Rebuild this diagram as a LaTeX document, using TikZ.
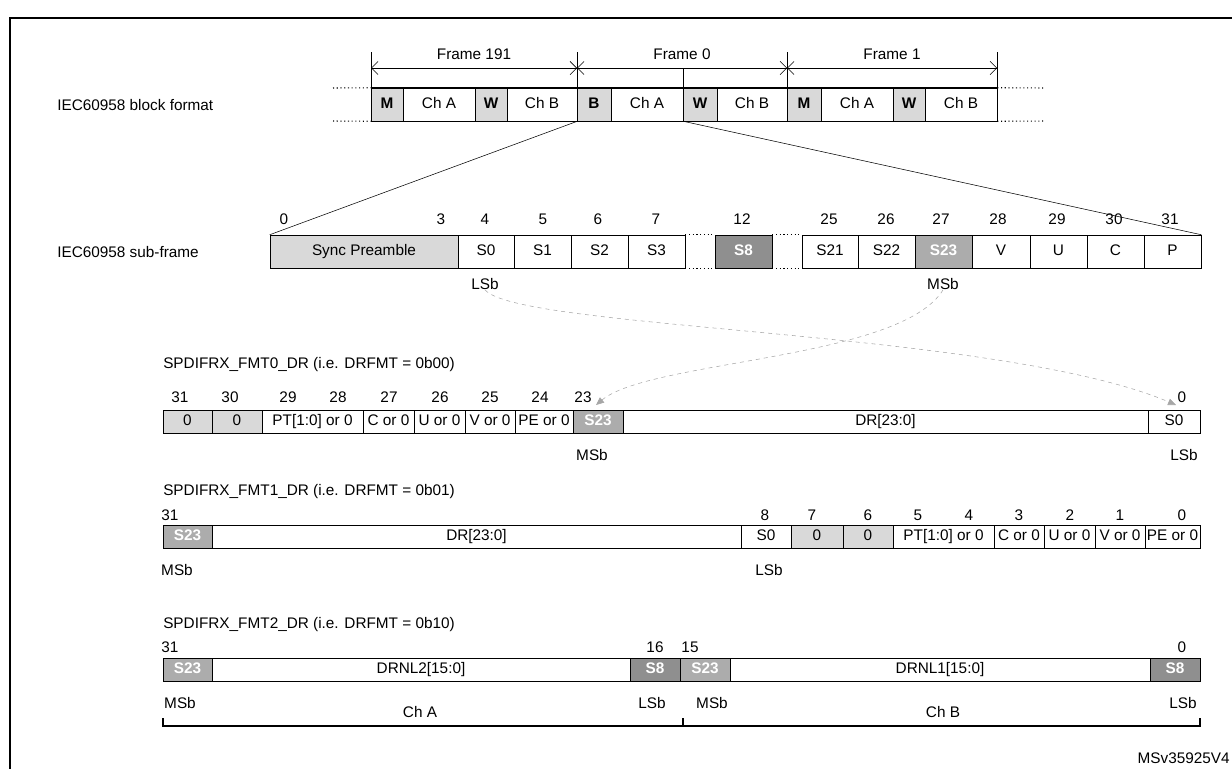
\documentclass[tikz,border=0pt]{standalone}
\usepackage{fontspec}
\setmainfont{Liberation Sans}
\usetikzlibrary{arrows.meta,positioning}
\tikzset{
  cell/.style={draw, inner sep=0pt, text height=1.6ex, text depth=0.35ex, font=\fontsize{11.5}{13}\selectfont},
  wt/.style={cell, fill=white},
  lt/.style={cell, fill=gray!30},
  md/.style={cell, fill=gray!65, text=white, font=\fontsize{11.5}{13}\selectfont\bfseries},
  dk/.style={cell, fill=gray!90!black!80, text=white, font=\fontsize{11.5}{13}\selectfont\bfseries},
  bk/.style={cell, fill=gray!30, font=\fontsize{11.5}{13}\selectfont\bfseries},
  lbl/.style={inner sep=0pt, font=\fontsize{11.5}{13}\selectfont},
  dim/.style={-{Straight Barb[length=5pt]}, thin},
  swap/.style={dashed, gray!70, thin, -{Triangle[length=6pt,width=5pt]}}
}
\begin{document}
\begin{tikzpicture}[x=0.75pt,y=-0.75pt]
\useasboundingbox (0,0) rectangle (1232,768);
\draw[thick] (10,770) -- (10,18) -- (1234,18);

% block format
\node[lbl, anchor=west] (blk) at (57,105) {IEC60958 block format};
\foreach \a/\b/\t/\s [count=\i] in {371/403/M/bk,403/475/Ch A/wt,475/507/W/bk,507/577/Ch B/wt,
  577/611/B/bk,611/683/Ch A/wt,683/717/W/bk,717/787/Ch B/wt,787/821/M/bk,821/893/Ch A/wt,893/925/W/bk,925/997/Ch B/wt}
  \node[\s, minimum width={(\b-\a)*0.75pt}, minimum height=24.75pt] (b\i) at ({(\a+\b)/2},104.5) {\t};
\draw[thick] (b1.north west) -- (b12.north east);
\draw[thick] (b1.south west) -- (b12.south east);
\draw[thick, dotted] (333,88) -- (b1.north west) (333,121) -- (b1.south west);
\draw[thick, dotted] (b12.north east) -- (1045,88) (b12.south east) -- (1045,121);
\foreach \x in {371,577,787,997} \draw (\x,52) -- (\x,88);
\draw (683,68) -- (683,88);
\foreach \a/\b/\t [count=\i] in {371/577/Frame 191,577/787/Frame 0,787/997/Frame 1} {
  \coordinate (fl\i) at (\a,68); \coordinate (fr\i) at (\b,68);
  \draw[dim] (fl\i) -- (fr\i);
  \draw[dim] (fr\i) -- (fl\i);
  \node[lbl] (fn\i) at ({(\a+\b)/2},54) {\t};
}

% sub-frame
\node[lbl, anchor=west] (sub) at (57,252) {IEC60958 sub-frame};
\foreach \a/\b/\t/\s [count=\i] in {270/458/Sync Preamble/lt,458/514/S0/wt,514/571/S1/wt,571/628/S2/wt,628/685/S3/wt,
  715/772/S8/dk,802/858/S21/wt,858/915/S22/wt,915/972/S23/md,972/1030/V/wt,1030/1087/U/wt,1087/1144/C/wt,1144/1201/P/wt}
  \node[\s, minimum width={(\b-\a)*0.75pt}, minimum height=24.75pt] (s\i) at ({(\a+\b)/2},251.5) {\t};
\draw[thick, dotted] (s5.north east) -- (s6.north west) (s5.south east) -- (s6.south west);
\draw[thick, dotted] (s6.north east) -- (s7.north west) (s6.south east) -- (s7.south west);
\foreach \x/\t in {284/0,441/3,485/4,543/5,598/6,656/7,742/12,829/25,886/26,941/27,998/28,1057/29,1114/30,1170/31}
  \node[lbl] at (\x,219) {\t};
\draw (b4.south east) -- (s1.north west);
\draw (b6.south east) -- (s13.north east);
\node[lbl] (slsb) at (485,284) {LSb};
\node[lbl] (smsb) at (943,284) {MSb};

% FMT0
\node[lbl, anchor=west] (f0) at (163,365) {SPDIFRX\_FMT0\_DR (i.e. DRFMT = 0b00)};
\foreach \a/\b/\t/\s [count=\i] in {163/212/0/lt,212/262/0/lt,262/363/PT[1:0] or 0/wt,363/414/C or 0/wt,414/465/U or 0/wt,
  465/515/V or 0/wt,515/573/PE or 0/wt,573/623/S23/md,623/1148/DR[23:0]/wt,1148/1200/S0/wt}
  \node[\s, minimum width={(\b-\a)*0.75pt}, minimum height=17.25pt] (p\i) at ({(\a+\b)/2},421.5) {\t};
\foreach \x/\t in {180/31,230/30,288/29,338/28,389/27,440/26,490/25,540/24,583/23,1182/0}
  \node[lbl] at (\x,397) {\t};
\node[lbl] at (592,455) {MSb};
\node[lbl] at (1184,455) {LSb};
\draw[swap] (slsb.south) .. controls (520,330) and (1000,330) .. (1176,405);
\draw[swap] (smsb.south) .. controls (900,360) and (650,360) .. (596,405);

% FMT1
\node[lbl, anchor=west] (f1) at (163,492) {SPDIFRX\_FMT1\_DR (i.e. DRFMT = 0b01)};
\foreach \a/\b/\t/\s [count=\i] in {163/212/S23/md,212/741/DR[23:0]/wt,741/791/S0/wt,791/843/0/lt,843/893/0/lt,
  893/994/PT[1:0] or 0/wt,994/1044/C or 0/wt,1044/1095/U or 0/wt,1095/1145/V or 0/wt,1145/1200/PE or 0/wt}
  \node[\s, minimum width={(\b-\a)*0.75pt}, minimum height=17.25pt] (q\i) at ({(\a+\b)/2},536.5) {\t};
\foreach \x/\t in {170/31,765/8,812/7,868/6,918/5,969/4,1019/3,1070/2,1120/1,1182/0}
  \node[lbl] at (\x,515) {\t};
\node[lbl] at (177,570) {MSb};
\node[lbl] at (769,570) {LSb};

% FMT2
\node[lbl, anchor=west] (f2) at (163,625) {SPDIFRX\_FMT2\_DR (i.e. DRFMT = 0b10)};
\foreach \a/\b/\t/\s [count=\i] in {163/212/S23/md,212/630/DRNL2[15:0]/wt,630/680/S8/dk,680/730/S23/md,730/1150/DRNL1[15:0]/wt,1150/1200/S8/dk}
  \node[\s, minimum width={(\b-\a)*0.75pt}, minimum height=17.25pt] (r\i) at ({(\a+\b)/2},669.5) {\t};
\foreach \x/\t in {170/31,655/16,690/15,1182/0}
  \node[lbl] at (\x,647) {\t};
\foreach \x/\t in {180/MSb,652/LSb,712/MSb,1183/LSb}
  \node[lbl] at (\x,703) {\t};
\node[lbl] (cha) at (420,712) {Ch A};
\node[lbl] (chb) at (943,712) {Ch B};
\draw[thick] (163,718) -- (163,726) -- (1200,726) -- (1200,718);
\draw[thick] (683,718) -- (683,726);
\node[lbl, anchor=east] (ref) at (1230,758) {MSv35925V4};
\end{tikzpicture}
\end{document}
